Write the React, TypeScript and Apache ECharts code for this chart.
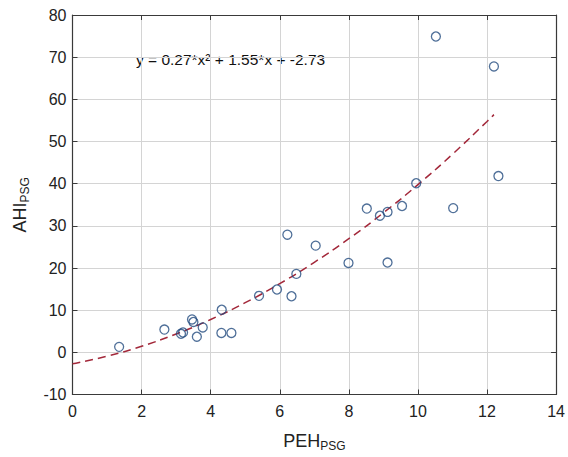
import React, { useEffect, useRef } from "react";
import * as echarts from "echarts";

const xTicks = [0, 2, 4, 6, 8, 10, 12, 14];
const yTicks = [-10, 0, 10, 20, 30, 40, 50, 60, 70, 80];

const pehValues = [1.35, 2.66, 3.14, 3.2, 3.46, 3.5, 3.6, 3.77, 4.32, 4.31, 4.6, 5.4, 5.92, 6.22, 6.34, 6.48, 7.04, 7.99, 9.12, 8.9, 9.12, 8.52, 9.54, 9.95, 11.02, 10.52, 12.2, 12.33];
const ahiValues = [1.3, 5.4, 4.4, 4.7, 7.8, 7.2, 3.7, 5.9, 10.1, 4.6, 4.6, 13.4, 14.9, 27.9, 13.3, 18.6, 25.3, 21.2, 21.3, 32.4, 33.3, 34.1, 34.7, 40.1, 34.2, 74.9, 67.8, 41.8];

const curveX = [0, 1, 2, 3, 4, 5, 6, 7, 8, 9, 10, 11, 12, 12.2];
const curveY = [-2.73, -0.91, 1.45, 4.35, 7.79, 11.77, 16.29, 21.35, 26.95, 33.09, 39.77, 46.99, 54.75, 56.37];

const equationText = "y = 0.27*x\u00b2 + 1.55*x + -2.73";

export default function App() {
  const ref = useRef<HTMLDivElement>(null);
  useEffect(() => {
    if (!ref.current) return;
    const chart = echarts.init(ref.current, undefined, { renderer: "svg" });
    const font = "Liberation Sans, Arial, sans-serif";
    const axisLineColor = "#3a3a3a";
    const gridColor = "#d4d4d4";
    const frameAxis = {
      axisLine: { show: true, onZero: false, lineStyle: { color: axisLineColor, width: 1.2 } },
      axisTick: { show: true, inside: true, length: 5, lineStyle: { color: axisLineColor } },
    };
    chart.setOption({
      animation: false,
      backgroundColor: "#ffffff",
      textStyle: { fontFamily: font },
      grid: { left: 65, right: 9, top: 15, bottom: 53, containLabel: false },
      xAxis: [
        {
          type: "value",
          min: xTicks[0],
          max: xTicks[xTicks.length - 1],
          interval: 2,
          position: "bottom",
          ...frameAxis,
          axisLabel: { color: "#222", fontSize: 16, margin: 9, fontFamily: font },
          splitLine: { show: true, lineStyle: { color: gridColor, width: 1 } },
          name: "{a|PEH}{b|PSG}",
          nameLocation: "middle",
          nameGap: 35,
          nameTextStyle: {
            rich: {
              a: { fontSize: 18, color: "#222", fontFamily: font, lineHeight: 22 },
              b: { fontSize: 12, color: "#222", fontFamily: font, lineHeight: 22, padding: [11, 0, 0, 0] },
            },
          },
        },
        {
          type: "value",
          min: xTicks[0],
          max: xTicks[xTicks.length - 1],
          interval: 2,
          position: "top",
          ...frameAxis,
          axisLabel: { show: false },
          splitLine: { show: false },
        },
      ],
      yAxis: [
        {
          type: "value",
          min: yTicks[0],
          max: yTicks[yTicks.length - 1],
          interval: 10,
          position: "left",
          ...frameAxis,
          axisLabel: { color: "#222", fontSize: 16, margin: 6, fontFamily: font },
          splitLine: { show: true, lineStyle: { color: gridColor, width: 1 } },
          name: "{a|AHI}{b|PSG}",
          nameLocation: "middle",
          nameGap: 42,
          nameRotate: 90,
          nameTextStyle: {
            rich: {
              a: { fontSize: 18, color: "#222", fontFamily: font, lineHeight: 22 },
              b: { fontSize: 12, color: "#222", fontFamily: font, lineHeight: 22, padding: [11, 0, 0, 0] },
            },
          },
        },
        {
          type: "value",
          min: yTicks[0],
          max: yTicks[yTicks.length - 1],
          interval: 10,
          position: "right",
          ...frameAxis,
          axisLabel: { show: false },
          splitLine: { show: false },
        },
      ],
      series: [
        {
          type: "line",
          xAxisIndex: 0,
          yAxisIndex: 0,
          data: curveX.map((x, i) => [x, curveY[i]]),
          smooth: true,
          showSymbol: false,
          symbol: "none",
          lineStyle: { color: "#a3283a", width: 1.5, type: [8, 5] },
          z: 2,
        },
        {
          type: "scatter",
          xAxisIndex: 0,
          yAxisIndex: 0,
          data: pehValues.map((x, i) => [x, ahiValues[i]]),
          symbol: "circle",
          symbolSize: 9,
          itemStyle: { color: "rgba(255,255,255,0)", borderColor: "#244c80", borderWidth: 1.3 },
          z: 3,
        },
      ],
      graphic: [
        {
          type: "text",
          left: 136,
          top: 51,
          style: {
            text: equationText,
            fontSize: 15.5,
            fontFamily: font,
            fill: "#111",
          },
        },
      ],
    });
    return () => chart.dispose();
  }, []);
  return (
    <div
      ref={ref}
      style={{ position: "absolute", left: 0, top: 0, width: 568, height: 457 }}
    />
  );
}
